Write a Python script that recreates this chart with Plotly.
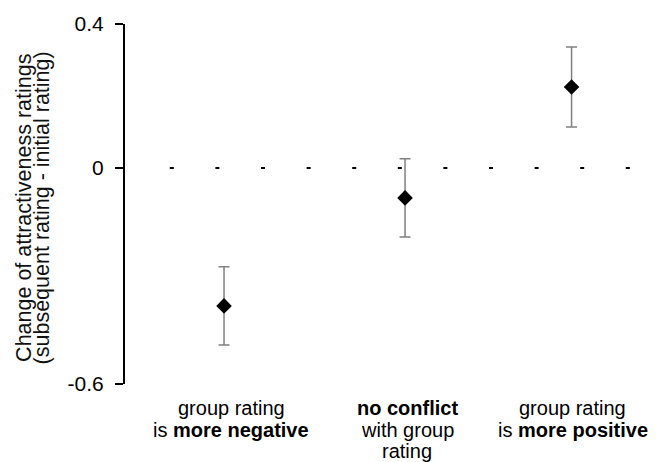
import plotly.graph_objects as go

# ---- data ----
conditions = ["group rating is more negative", "no conflict with group rating", "group rating is more positive"]
x_positions = [1.0, 2.0, 2.92]
mean_change = [-0.383, -0.083, 0.225]
ci_half_width = [0.109, 0.109, 0.111]

label_lines = [
    ["group rating", "is <b>more negative</b>"],
    ["<b>no conflict</b>", "with group", "rating"],
    ["group rating", "is <b>more positive</b>"],
]
label_xshift = [7, 2, 1]

y_ticks = [0.4, 0, -0.6]
y_ticktext = ["0.4", "0", "-0.6"]
y_title_lines = ["Change of attractiveness ratings", "(subsequent rating - initial rating)"]

FONT = "Liberation Sans, Arial, sans-serif"

fig = go.Figure()
fig.add_trace(go.Scatter(
    x=x_positions, y=mean_change, mode="markers",
    marker=dict(symbol="diamond", size=12, color="black"),
    error_y=dict(type="data", array=ci_half_width, visible=True,
                 color="#808080", thickness=1.5, width=5.5),
    showlegend=False, hoverinfo="skip",
))

# zero reference line (dashed)
fig.add_shape(type="line", xref="paper", yref="y", x0=0.087, x1=0.981, y0=0, y1=0,
              line=dict(color="black", width=2, dash="4px,41.6px"))

# category labels, one annotation per line
line_y = [-0.0659, -0.1264, -0.1868]
for xi, lines, xs in zip(x_positions, label_lines, label_xshift):
    for j, t in enumerate(lines):
        fig.add_annotation(x=xi, xref="x", y=line_y[j], yref="paper", text=t,
                           showarrow=False, xanchor="center", yanchor="middle", xshift=xs,
                           font=dict(family=FONT, size=20, color="black"))

# y title, two rotated lines
for xp, t in zip([-0.1975, -0.1615], y_title_lines):
    fig.add_annotation(x=xp, xref="paper", y=0.49, yref="paper", text=t, textangle=-90,
                       showarrow=False, xanchor="center", yanchor="middle",
                       font=dict(family=FONT, size=21.5, color="#111111"))

fig.update_layout(
    width=664, height=462,
    margin=dict(l=125, r=24, t=20, b=78),
    paper_bgcolor="white", plot_bgcolor="white",
    font=dict(family=FONT, color="black"),
    xaxis=dict(range=[0.453, 3.298], visible=False, showgrid=False, zeroline=False),
    yaxis=dict(range=[-0.6, 0.4], tickvals=y_ticks, ticktext=y_ticktext,
               showline=True, linecolor="black", linewidth=2,
               ticks="outside", ticklen=8, tickwidth=2, tickcolor="black",
               ticklabelstandoff=7,
               showgrid=False, zeroline=False,
               tickfont=dict(family=FONT, size=21, color="black")),
)

fig.write_html("out.html", config={"displayModeBar": False},
               post_script="document.body.style.margin='0';document.body.style.overflow='hidden';")
